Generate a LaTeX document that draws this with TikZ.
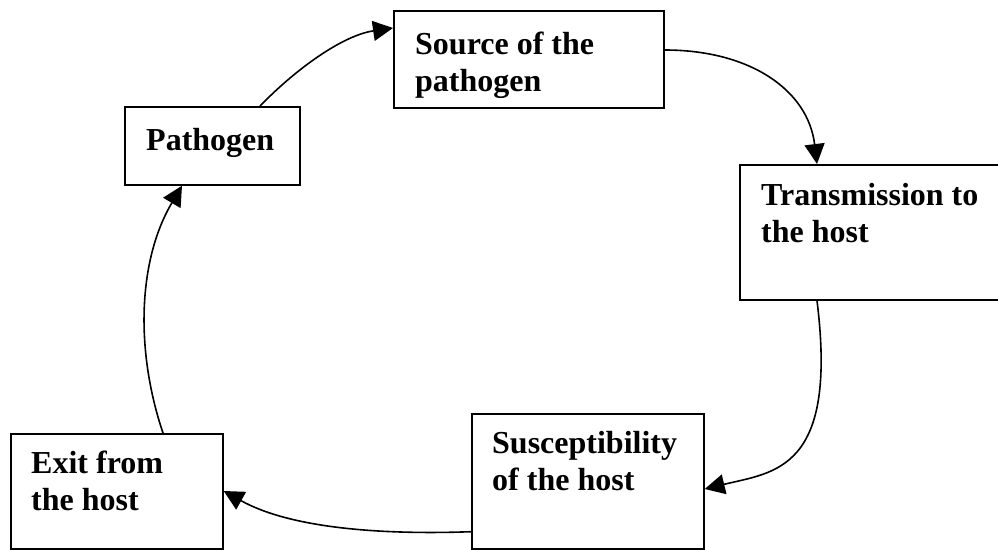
\documentclass[tikz,border=0pt]{standalone}
\usepackage{fontspec}
\setmainfont{Liberation Serif}
\usetikzlibrary{arrows.meta,calc}

\tikzset{
  box/.style={draw, line width=1.7pt, inner sep=0pt, anchor=north west},
  lbl/.style={font=\bfseries\fontsize{32}{37}\selectfont, align=left,
              inner sep=0pt, anchor=base west},
  flow/.style={line width=1.6pt,
               -{Triangle[length=20pt,width=20pt]}},
}

\begin{document}
\begin{tikzpicture}[x=1pt,y=-1pt]
  \useasboundingbox (0,0) rectangle (998,549);

  % boxes of the cycle
  \node[box, minimum width=175pt, minimum height=78pt]  (pat) at (124,106) {};
  \node[box, minimum width=270pt, minimum height=97pt]  (src) at (393,10)  {};
  \node[box, minimum width=259pt, minimum height=135pt] (tra) at (739,164) {};
  \node[box, minimum width=232pt, minimum height=135pt] (sus) at (471,413) {};
  \node[box, minimum width=212pt, minimum height=115pt] (exi) at (10,433)  {};

  % labels inside the boxes (base = baseline of the last line)
  \node[lbl] (patT) at ($(pat.north west)+(22,44)$) {Pathogen};
  \node[lbl] (srcT) at ($(src.north west)+(22,81)$) {Source of the\\pathogen};
  \node[lbl] (traT) at ($(tra.north west)+(22,78)$) {Transmission to\\the host};
  \node[lbl] (susT) at ($(sus.north west)+(21,77)$) {Susceptibility\\of the host};
  \node[lbl] (exiT) at ($(exi.north west)+(21,77)$) {Exit from\\the host};

  % connectors
  \draw[flow] ($(pat.north west)+(136,0)$)
    .. controls (300,65) and (345,35) .. ($(src.north west)+(0,18)$);
  \draw[flow] ($(src.north east)+(0,40)$)
    .. controls (750,50) and (808,90) .. ($(tra.north west)+(78,0)$);
  \draw[flow] ($(tra.south west)+(78,0)$)
    .. controls (838,470) and (775,472) .. ($(sus.north east)+(0,76)$);
  \draw[flow] ($(sus.south west)+(0,-18)$)
    .. controls (380,535) and (290,528) .. ($(exi.north east)+(0,58)$);
  \draw[flow] ($(exi.north west)+(153,0)$)
    .. controls (135,350) and (138,260) .. ($(pat.south west)+(58,0)$);
\end{tikzpicture}
\end{document}
